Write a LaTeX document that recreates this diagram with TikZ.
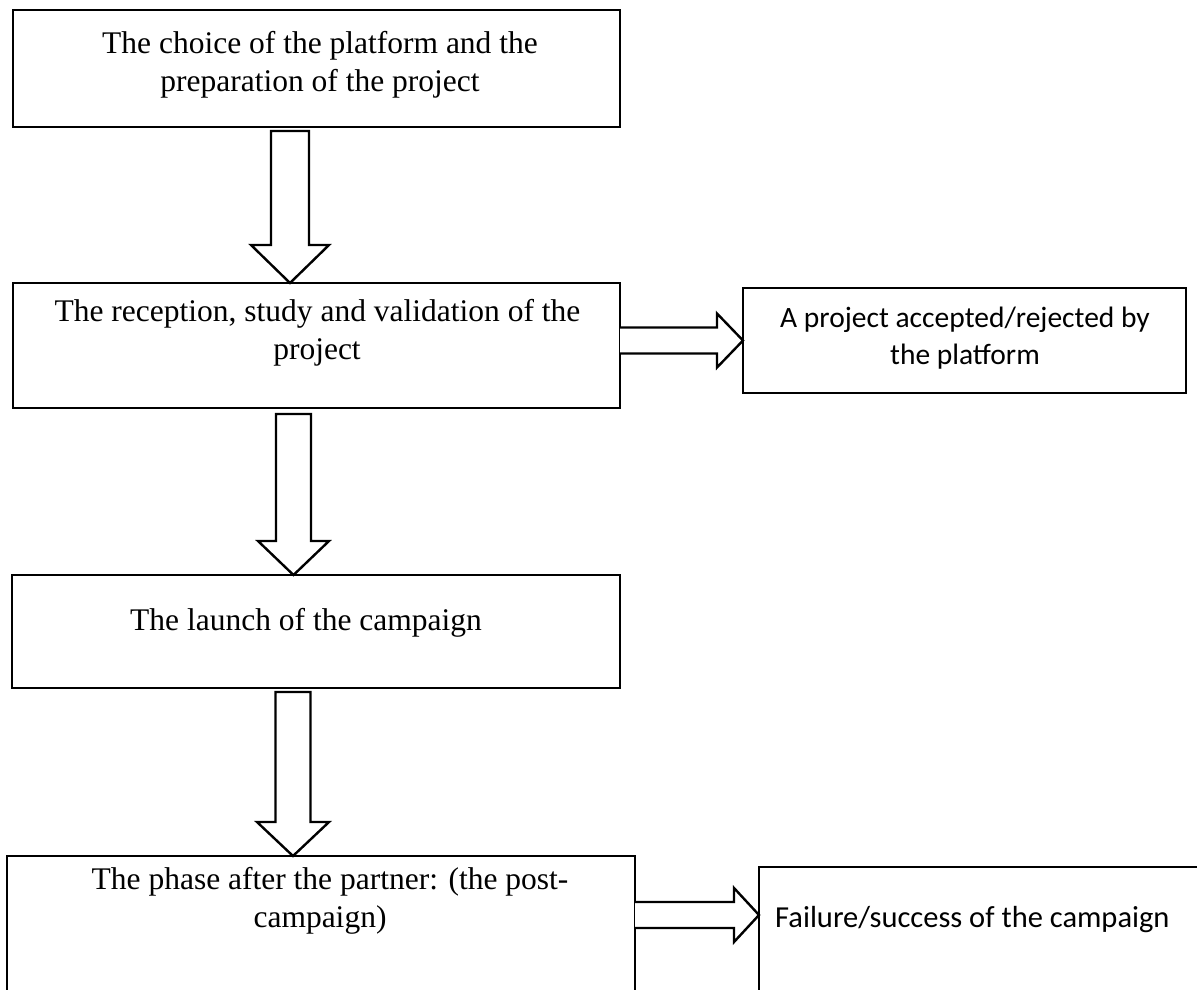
\documentclass[tikz,border=0pt]{standalone}
\usepackage{fontspec}
\setmainfont{Liberation Serif}
\newfontfamily\calibri{Carlito}
\usetikzlibrary{calc}
\newcommand\varrow[5]{% #1 top, #2 tip, #3 half shaft, #4 half head, #5 head length
  \draw[blk] ($(#1)+(-#3,0)$) -- ($(#1)+(#3,0)$) -- ($(#2)+(#3,-#5)$) -- ($(#2)+(#4,-#5)$) -- (#2)
    -- ($(#2)+(-#4,-#5)$) -- ($(#2)+(-#3,-#5)$) -- cycle;}
\newcommand\harrow[5]{% #1 start, #2 tip, #3 half shaft, #4 half head, #5 head length
  \draw[blk] ($(#1)+(0,-#3)$) -- ($(#2)+(-#5,-#3)$) -- ($(#2)+(-#5,-#4)$) -- (#2)
    -- ($(#2)+(-#5,#4)$) -- ($(#2)+(-#5,#3)$) -- ($(#1)+(0,#3)$);}
\begin{document}
\begin{tikzpicture}[x=1pt,y=-1pt,
  box/.style={draw, line width=2.8pt, inner sep=0pt, outer sep=0pt, anchor=north west},
  blk/.style={draw, line width=2.4pt, fill=white, line join=miter},
  serif/.style={font=\fontsize{31.5}{38}\selectfont, anchor=base, inner sep=0pt},
  sans/.style={font=\calibri\fontsize{29.5}{36}\selectfont, anchor=base, inner sep=0pt}]
\clip (0,0) rectangle (1197,989);
\fill[white] (0,0) rectangle (1197,989);
% boxes
\node[box, minimum width=607pt, minimum height=117pt] (b1) at (13,10) {};
\node[box, minimum width=607pt, minimum height=125pt] (b2) at (13,283) {};
\node[box, minimum width=608pt, minimum height=113pt] (b3) at (12,575) {};
\node[box, minimum width=628pt, minimum height=160pt] (b4) at (7,856) {};
\node[box, minimum width=443pt, minimum height=105pt] (bA) at (743,288) {};
\node[box, minimum width=460pt, minimum height=150pt] (bF) at (759,867) {};
% texts
\node[serif] (t1a) at (320,53) {The choice of the platform and the};
\node[serif] (t1b) at (320,91) {preparation of the project};
\node[serif] (t2a) at (317.5,321) {The reception, study and validation of the};
\node[serif] (t2b) at (317,359) {project};
\node[serif] (t3) at (306,630) {The launch of the campaign};
\node[serif] (t4a) at (330,889) {The phase after the partner: (the post-};
\node[serif] (t4b) at (320,927) {campaign)};
\node[sans] (tAa) at (965,327) {A project accepted/rejected by};
\node[sans] (tAb) at (965,364) {the platform};
\node[sans, anchor=base west, font=\calibri\fontsize{30.5}{36}\selectfont] (tF) at (775,927) {Failure/success of the campaign};
% vertical block arrows
\path (b1.south) ++(-26.5,4) coordinate (a1s);
\path (b2.north -| a1s) coordinate (a1e);
\varrow{a1s}{a1e}{19}{39}{38}
\path (b2.south) ++(-23,6) coordinate (a2s);
\path (b3.north -| a2s) coordinate (a2e);
\varrow{a2s}{a2e}{17.5}{35.5}{34}
\path (b3.south) ++(-23,4) coordinate (a3s);
\path (b4.north -| a3s) coordinate (a3e);
\varrow{a3s}{a3e}{17.5}{36}{34}
% horizontal block arrows
\path (b2.east |- bA.west) coordinate (h1s);
\harrow{h1s}{bA.west}{13}{27}{26}
\path (b4.north east) ++(0,59) coordinate (h2s);
\path (bF.west |- h2s) coordinate (h2e);
\harrow{h2s}{h2e}{13}{27}{25}
\end{tikzpicture}
\end{document}
